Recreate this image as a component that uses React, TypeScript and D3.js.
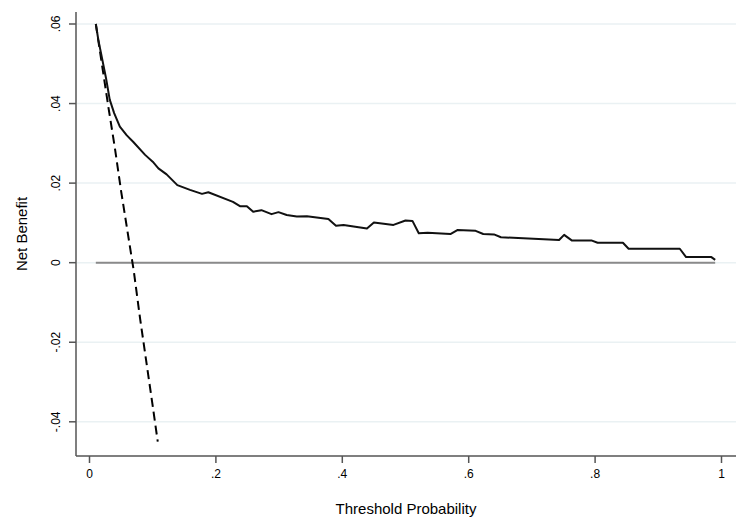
import React from "react";
import * as d3 from "d3";

// Model net benefit curve: [threshold, net benefit]
const modelThreshold = [
  0.01, 0.014, 0.026, 0.032, 0.039, 0.048, 0.059, 0.069, 0.088, 0.1, 0.109, 0.122,
  0.139, 0.159, 0.178, 0.188, 0.227, 0.238, 0.249, 0.259, 0.272, 0.288, 0.299,
  0.312, 0.328, 0.344, 0.378, 0.39, 0.402, 0.439, 0.45, 0.481, 0.5, 0.511, 0.521,
  0.535, 0.571, 0.582, 0.611, 0.623, 0.64, 0.651, 0.743, 0.751, 0.763, 0.794,
  0.804, 0.844, 0.853, 0.934, 0.944, 0.984, 0.99,
];
const modelBenefit = [
  0.06, 0.056, 0.0465, 0.041, 0.0376, 0.0342, 0.032, 0.0304, 0.0271, 0.0254, 0.0237,
  0.0222, 0.0195, 0.0183, 0.0173, 0.0177, 0.0153, 0.0142, 0.0142, 0.0128, 0.0132,
  0.0122, 0.0127, 0.012, 0.0116, 0.0117, 0.011, 0.0093, 0.0095, 0.0086, 0.0101,
  0.0095, 0.0106, 0.0105, 0.0074, 0.0075, 0.0072, 0.0082, 0.008, 0.0072, 0.0071,
  0.0064, 0.0057, 0.007, 0.0056, 0.0056, 0.005, 0.005, 0.0035, 0.0035, 0.0014,
  0.0014, 0.0007,
];

// Treat-all (dashed)
const allThreshold = [0.01, 0.02, 0.03, 0.04, 0.05, 0.06, 0.07, 0.08, 0.09, 0.1, 0.108];
const allBenefit = [0.06, 0.0495, 0.039, 0.029, 0.018, 0.008, -0.002, -0.014, -0.025, -0.036, -0.045];

// Treat-none
const noneThreshold = [0.01, 0.99];
const noneBenefit = [0, 0];

const xTicks = [0, 0.2, 0.4, 0.6, 0.8, 1];
const xTickLabels = ["0", ".2", ".4", ".6", ".8", "1"];
const yTicks = [-0.04, -0.02, 0, 0.02, 0.04, 0.06];
const yTickLabels = ["-.04", "-.02", "0", ".02", ".04", ".06"];

const W = 744;
const H = 528;
const FONT = "'Liberation Sans', Arial, Helvetica, sans-serif";

export default function App() {
  const x = d3.scaleLinear().domain([0, 1]).range([89.5, 721.5]);
  const y = d3.scaleLinear().domain([-0.04, 0.06]).range([421.8, 24]);
  const left = 76;
  const right = 736;
  const top = 12;
  const bottom = 456;

  const line = d3
    .line<[number, number]>()
    .x((d) => x(d[0]))
    .y((d) => y(d[1]));

  const model = modelThreshold.map((t, i) => [t, modelBenefit[i]] as [number, number]);
  const all = allThreshold.map((t, i) => [t, allBenefit[i]] as [number, number]);
  const none = noneThreshold.map((t, i) => [t, noneBenefit[i]] as [number, number]);

  return (
    <svg
      width={W}
      height={H}
      style={{ position: "absolute", left: 0, top: 0, background: "#fff" }}
      fontFamily={FONT}
    >
      <rect x={0} y={0} width={W} height={H} fill="#fff" />
      {/* gridlines */}
      {yTicks.map((t) => (
        <line
          key={"g" + t}
          x1={left + 1}
          x2={right}
          y1={y(t)}
          y2={y(t)}
          stroke="#eaf1f3"
          strokeWidth={1.5}
        />
      ))}
      {/* treat none */}
      <path d={line(none) || ""} fill="none" stroke="#8a8a8a" strokeWidth={2} />
      {/* treat all */}
      <path
        d={line(all) || ""}
        fill="none"
        stroke="#000"
        strokeWidth={2}
        strokeDasharray="9,5"
      />
      {/* model */}
      <path
        d={line(model) || ""}
        fill="none"
        stroke="#111"
        strokeWidth={2}
        strokeLinejoin="round"
      />
      {/* axes */}
      <line x1={left} x2={left} y1={top} y2={bottom} stroke="#555" strokeWidth={1.5} />
      <line x1={left} x2={right} y1={bottom} y2={bottom} stroke="#555" strokeWidth={1.5} />
      {yTicks.map((t, i) => (
        <g key={"y" + t}>
          <line x1={left - 7} x2={left} y1={y(t)} y2={y(t)} stroke="#555" strokeWidth={1.5} />
          <text
            transform={`translate(60,${y(t)}) rotate(-90)`}
            textAnchor="middle"
            fontSize={12}
            fill="#000"
          >
            {yTickLabels[i]}
          </text>
        </g>
      ))}
      {xTicks.map((t, i) => (
        <g key={"x" + t}>
          <line x1={x(t)} x2={x(t)} y1={bottom} y2={bottom + 7} stroke="#555" strokeWidth={1.5} />
          <text x={x(t)} y={477.5} textAnchor="middle" fontSize={12} fill="#000">
            {xTickLabels[i]}
          </text>
        </g>
      ))}
      <text
        transform={`translate(27,${(top + bottom) / 2}) rotate(-90)`}
        textAnchor="middle"
        fontSize={15}
        fill="#000"
      >
        Net Benefit
      </text>
      <text x={(left + right) / 2} y={514} textAnchor="middle" fontSize={15} fill="#000">
        Threshold Probability
      </text>
    </svg>
  );
}
